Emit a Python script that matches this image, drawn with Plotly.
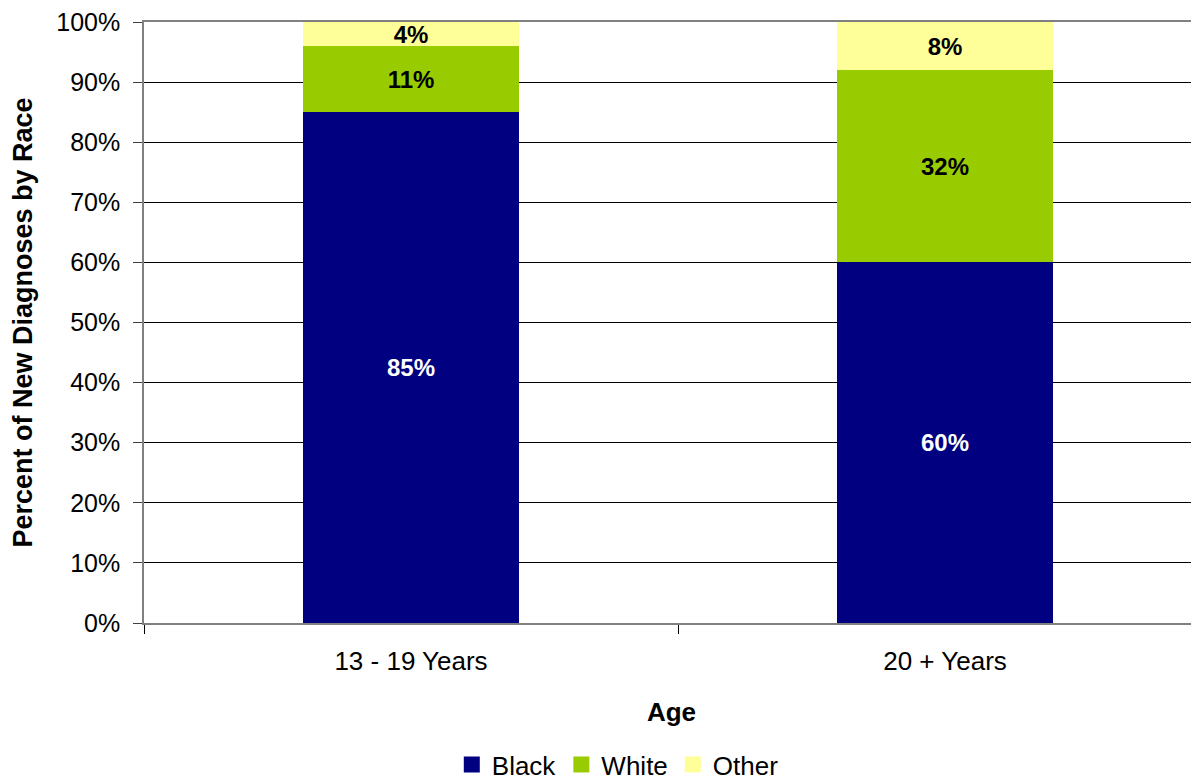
import plotly.graph_objects as go

categories = ["13 - 19 Years", "20 + Years"]
black_vals = [85, 60]
white_vals = [11, 32]
other_vals = [4, 8]
series_names = ["Black", "White", "Other"]
colors = ["#000080", "#99CC00", "#FFFF99"]
label_colors = ["white", "black", "black"]
y_ticks = list(range(0, 101, 10))
y_tick_labels = [f"{v}%" for v in y_ticks]

FONT = "Liberation Sans, Arial, sans-serif"

fig = go.Figure()
for name, vals, col, lc in zip(series_names, [black_vals, white_vals, other_vals], colors, label_colors):
    fig.add_trace(go.Bar(
        name=name, x=categories, y=vals, marker=dict(color=col, line=dict(width=0)),
        width=0.403, showlegend=False,
        text=[f"{v}%" for v in vals], textposition="inside", insidetextanchor="middle",
        textangle=0, constraintext="none",
        textfont=dict(family=FONT, size=24, color=lc, weight="bold"),
        hoverinfo="skip",
    ))
# legend entries with larger square swatches
for name, col in zip(series_names, colors):
    fig.add_trace(go.Scatter(
        name=name, x=[None], y=[None], mode="markers",
        marker=dict(symbol="square", size=17, color=col, line=dict(width=0)),
        showlegend=True, hoverinfo="skip",
    ))

fig.update_layout(
    width=1191, height=772,
    barmode="stack",
    margin=dict(l=136, r=0, t=14, b=157),
    plot_bgcolor="white", paper_bgcolor="white",
    font=dict(family=FONT, size=25, color="black"),
    legend=dict(orientation="h", xref="container", x=0.512, xanchor="center",
                yref="container", y=0.02, yanchor="middle",
                font=dict(family=FONT, size=26, color="black"),
                itemwidth=30, traceorder="normal", tracegroupgap=0,
                bgcolor="rgba(0,0,0,0)"),
    xaxis=dict(
        type="category", range=[-0.5, -0.5 + 1055 / 534],
        tickson="boundaries", ticks="outside", ticklen=9, tickcolor="#000000",
        showline=True, linecolor="#808080", linewidth=1.5, mirror=True,
        showgrid=False, ticklabelstandoff=14,
        tickfont=dict(family=FONT, size=26),
        title=dict(text="<b>Age</b>", font=dict(family=FONT, size=26), standoff=28),
    ),
    yaxis=dict(
        range=[0, 100], tickvals=y_ticks, ticktext=y_tick_labels,
        ticks="outside", ticklen=9, tickcolor="#404040",
        showline=True, linecolor="#808080", linewidth=1.5,
        showgrid=True, gridcolor="#000000", gridwidth=1,
        ticklabelstandoff=8, ticklabeloverflow="allow",
        tickfont=dict(family=FONT, size=25),
        title=dict(text="<b>Percent of New Diagnoses by Race</b>", font=dict(family=FONT, size=27), standoff=28),
        zeroline=False,
    ),
)

fig.write_html("out.html")
